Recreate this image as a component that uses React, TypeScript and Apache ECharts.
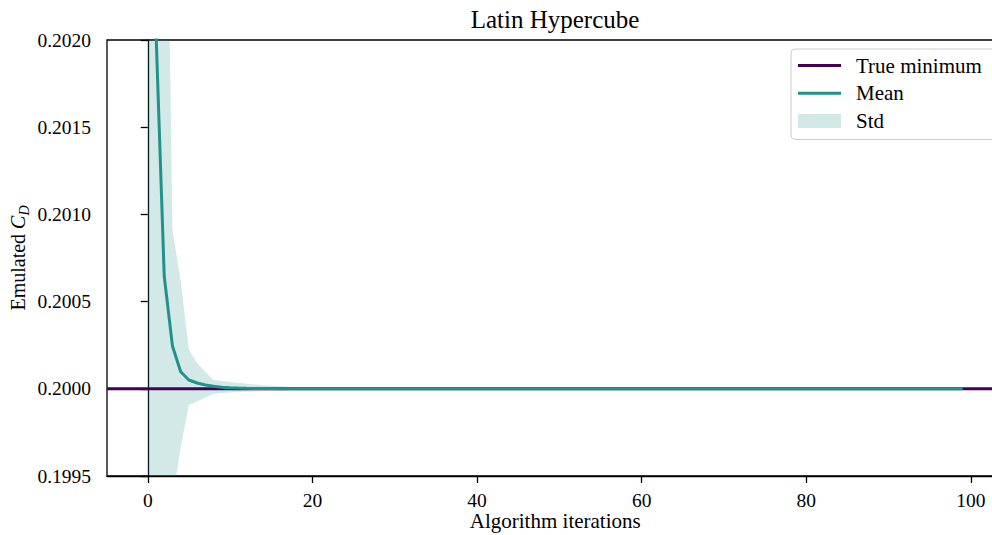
import React, { useEffect, useRef } from "react";
import * as echarts from "echarts";

// Algorithm iterations 0..99
const iterations: number[] = Array.from({ length: 100 }, (_, i) => i);

const trueMinimum = 0.2;

const meanValues: number[] = [
  0.215, 0.20205, 0.200647, 0.200245, 0.200098, 0.2000505, 0.2000333, 0.2000218, 0.2000143, 0.2000092,
  0.2000057, 0.200004, 0.2000029, 0.2000021, 0.2000015, 0.2000012, 0.2000009, 0.2000007, 0.2000005, 0.2000004,
  0.2000003, 0.2000002, 0.2000002, 0.2000002, 0.2000002, 0.2000002, 0.2000001, 0.2000001, 0.2000001, 0.2000001,
  0.2000001, 0.2000001, 0.2000001, 0.2000001, 0.2000001, 0.2000001, 0.2000001, 0.2000001, 0.2000001, 0.2000001,
  0.2, 0.2, 0.2, 0.2, 0.2, 0.2, 0.2, 0.2, 0.2, 0.2,
  0.2, 0.2, 0.2, 0.2, 0.2, 0.2, 0.2, 0.2, 0.2, 0.2,
  0.2, 0.2, 0.2, 0.2, 0.2, 0.2, 0.2, 0.2, 0.2, 0.2,
  0.2, 0.2, 0.2, 0.2, 0.2, 0.2, 0.2, 0.2, 0.2, 0.2,
  0.2, 0.2, 0.2, 0.2, 0.2, 0.2, 0.2, 0.2, 0.2, 0.2,
  0.2, 0.2, 0.2, 0.2, 0.2, 0.2, 0.2, 0.2, 0.2, 0.2,
];

const stdUpper: number[] = [
  0.209, 0.2072, 0.20424, 0.200911, 0.200618, 0.200222, 0.200148, 0.200096, 0.2000505, 0.2000447,
  0.200039, 0.200034, 0.2000287, 0.200024, 0.20002, 0.200017, 0.200014, 0.2000115, 0.2000095, 0.200008,
  0.2000065, 0.2000055, 0.2000046, 0.2000038, 0.2000032, 0.2000027, 0.2000023, 0.2000019, 0.2000016, 0.2000014,
  0.2000012, 0.200001, 0.2000009, 0.2000008, 0.2000007, 0.2000006, 0.2000006, 0.2000005, 0.2000005, 0.2000005,
  0.2000004, 0.2000004, 0.2000004, 0.2000004, 0.2000003, 0.2000003, 0.2000003, 0.2000003, 0.2000003, 0.2000003,
  0.2000003, 0.2000003, 0.2000003, 0.2000003, 0.2000003, 0.2000003, 0.2000003, 0.2000003, 0.2000003, 0.2000003,
  0.2000003, 0.2000003, 0.2000003, 0.2000003, 0.2000003, 0.2000003, 0.2000003, 0.2000003, 0.2000003, 0.2000003,
  0.2000003, 0.2000003, 0.2000003, 0.2000003, 0.2000003, 0.2000003, 0.2000003, 0.2000003, 0.2000003, 0.2000003,
  0.2000003, 0.2000003, 0.2000003, 0.2000003, 0.2000003, 0.2000003, 0.2000003, 0.2000003, 0.2000003, 0.2000003,
  0.2000003, 0.2000003, 0.2000003, 0.2000003, 0.2000003, 0.2000003, 0.2000003, 0.2000003, 0.2000003, 0.2000003,
];

const stdLower: number[] = [
  0.1958, 0.197, 0.1983, 0.19936, 0.199666, 0.199907, 0.199927, 0.19995, 0.19997, 0.199976,
  0.199979, 0.199981, 0.199983, 0.199985, 0.199987, 0.1999885, 0.19999, 0.199992, 0.1999935, 0.199995,
  0.199996, 0.1999967, 0.1999972, 0.1999977, 0.199998, 0.1999983, 0.1999985, 0.1999987, 0.1999989, 0.199999,
  0.1999991, 0.1999992, 0.1999993, 0.1999994, 0.1999994, 0.1999995, 0.1999995, 0.1999995, 0.1999996, 0.1999996,
  0.1999996, 0.1999996, 0.1999997, 0.1999997, 0.1999997, 0.1999997, 0.1999997, 0.1999997, 0.1999997, 0.1999997,
  0.1999997, 0.1999997, 0.1999997, 0.1999997, 0.1999997, 0.1999997, 0.1999997, 0.1999997, 0.1999997, 0.1999997,
  0.1999997, 0.1999997, 0.1999997, 0.1999997, 0.1999997, 0.1999997, 0.1999997, 0.1999997, 0.1999997, 0.1999997,
  0.1999997, 0.1999997, 0.1999997, 0.1999997, 0.1999997, 0.1999997, 0.1999997, 0.1999997, 0.1999997, 0.1999997,
  0.1999997, 0.1999997, 0.1999997, 0.1999997, 0.1999997, 0.1999997, 0.1999997, 0.1999997, 0.1999997, 0.1999997,
  0.1999997, 0.1999997, 0.1999997, 0.1999997, 0.1999997, 0.1999997, 0.1999997, 0.1999997, 0.1999997, 0.1999997,
];

const xTickValues: number[] = [0, 20, 40, 60, 80, 100];
const xMin = -4.95;
const xMax = 103.95;
const yMin = 0.1995;
const yMax = 0.202;
const yInterval = 0.0005;

const FONT = "'Liberation Serif', 'Times New Roman', serif";
const PURPLE = "#440154";
const TEAL = "#21918c";
const BAND_FILL = "rgba(33,145,140,0.2)";
const BAND_SOLID = "#d3e9e8";
const LINE_ICON = "path://M0,0 L43,0 L43,3 L0,3 Z";

export default function App() {
  const ref = useRef<HTMLDivElement>(null);

  useEffect(() => {
    if (!ref.current) return;
    const chart = echarts.init(ref.current, null, { renderer: "svg" });

    const bandData = iterations.map((x, i) => [x, stdLower[i], stdUpper[i]]);
    const meanData = iterations.map((x, i) => [x, meanValues[i]]);
    const minData = [
      [xMin, trueMinimum],
      [xMax, trueMinimum],
    ];

    chart.setOption({
      animation: false,
      backgroundColor: "#ffffff",
      title: {
        text: "Latin Hypercube",
        left: 555,
        top: 7,
        textAlign: "center",
        padding: 0,
        textStyle: { fontFamily: FONT, fontSize: 25, fontWeight: "normal", color: "#000" },
      },
      grid: {
        left: 107,
        top: 40,
        width: 896.5,
        height: 436,
        containLabel: false,
        outerBoundsMode: "none",
        show: true,
        borderColor: "#000",
        borderWidth: 1.3,
        backgroundColor: "transparent",
      },
      legend: {
        orient: "vertical",
        left: 791,
        top: 49,
        padding: [6, 18, 8, 7],
        itemGap: 6.7,
        itemWidth: 43,
        itemHeight: 14,
        symbolKeepAspect: true,
        backgroundColor: "rgba(255,255,255,0.8)",
        borderColor: "#cccccc",
        borderWidth: 1,
        borderRadius: 4,
        selectedMode: false,
        textStyle: { fontFamily: FONT, fontSize: 21, color: "#000", padding: [0, 0, 0, 10] },
        data: [
          { name: "True minimum", icon: LINE_ICON, itemStyle: { color: PURPLE, borderWidth: 0 } },
          { name: "Mean", icon: LINE_ICON, itemStyle: { color: TEAL, borderWidth: 0 } },
          { name: "Std", icon: "rect", itemStyle: { color: BAND_SOLID, opacity: 1, borderWidth: 0 } },
        ],
      },
      xAxis: {
        type: "value",
        min: xMin,
        max: xMax,
        name: "Algorithm iterations",
        nameLocation: "middle",
        nameGap: 34,
        nameMoveOverlap: false,
        nameTextStyle: { fontFamily: FONT, fontSize: 21, color: "#000" },
        splitLine: { show: false },
        axisLine: { show: true, lineStyle: { color: "#000", width: 1.3 } },
        axisTick: { show: true, length: 7, customValues: xTickValues, lineStyle: { color: "#000", width: 1.3 } },
        axisLabel: {
          customValues: xTickValues,
          margin: 14,
          fontFamily: FONT,
          fontSize: 19.5,
          color: "#000",
        },
      },
      yAxis: {
        type: "value",
        min: yMin,
        max: yMax,
        interval: yInterval,
        name: "{t|Emulated }{c|C}{s|D}",
        nameLocation: "middle",
        nameGap: 76,
        nameMoveOverlap: false,
        nameTextStyle: {
          fontFamily: FONT,
          fontSize: 20,
          color: "#000",
          rich: {
            t: { fontFamily: FONT, fontSize: 20, color: "#000", lineHeight: 26 },
            c: { fontFamily: FONT, fontSize: 20, fontStyle: "italic", color: "#000", lineHeight: 26 },
            s: { fontFamily: FONT, fontSize: 14, fontStyle: "italic", color: "#000", verticalAlign: "bottom", lineHeight: 15 },
          },
        },
        splitLine: { show: false },
        axisLine: { show: true, lineStyle: { color: "#000", width: 1.3 } },
        axisTick: { show: true, length: 7, lineStyle: { color: "#000", width: 1.3 } },
        axisLabel: {
          margin: 16,
          fontFamily: FONT,
          fontSize: 19.5,
          color: "#000",
          formatter: (v: number) => v.toFixed(4),
        },
      },
      series: [
        {
          name: "Std",
          type: "custom",
          coordinateSystem: "cartesian2d",
          data: bandData,
          encode: { x: 0, y: [1, 2] },
          clip: true,
          silent: true,
          z: 1,
          itemStyle: { color: BAND_SOLID },
          renderItem: (params: any, api: any) => {
            if (params.dataIndex !== 0) return null;
            const pts: number[][] = [];
            for (let i = 0; i < iterations.length; i++) {
              pts.push(api.coord([iterations[i], stdUpper[i]]));
            }
            for (let i = iterations.length - 1; i >= 0; i--) {
              pts.push(api.coord([iterations[i], stdLower[i]]));
            }
            const cs = params.coordSys;
            return {
              type: "polygon",
              shape: { points: pts },
              style: { fill: BAND_FILL, stroke: "none" },
              clipPath: { type: "rect", shape: { x: cs.x, y: cs.y, width: cs.width, height: cs.height } },
            };
          },
        },
        {
          name: "True minimum",
          type: "line",
          data: minData,
          symbol: "none",
          color: PURPLE,
          lineStyle: { color: PURPLE, width: 3 },
          z: 2,
        },
        {
          name: "Mean",
          type: "line",
          data: meanData,
          symbol: "none",
          color: TEAL,
          lineStyle: { color: TEAL, width: 3 },
          z: 3,
        },
      ],
    });

    return () => chart.dispose();
  }, []);

  return (
    <div
      ref={ref}
      style={{ position: "fixed", left: 0, top: 0, width: 992, height: 535 }}
    />
  );
}
